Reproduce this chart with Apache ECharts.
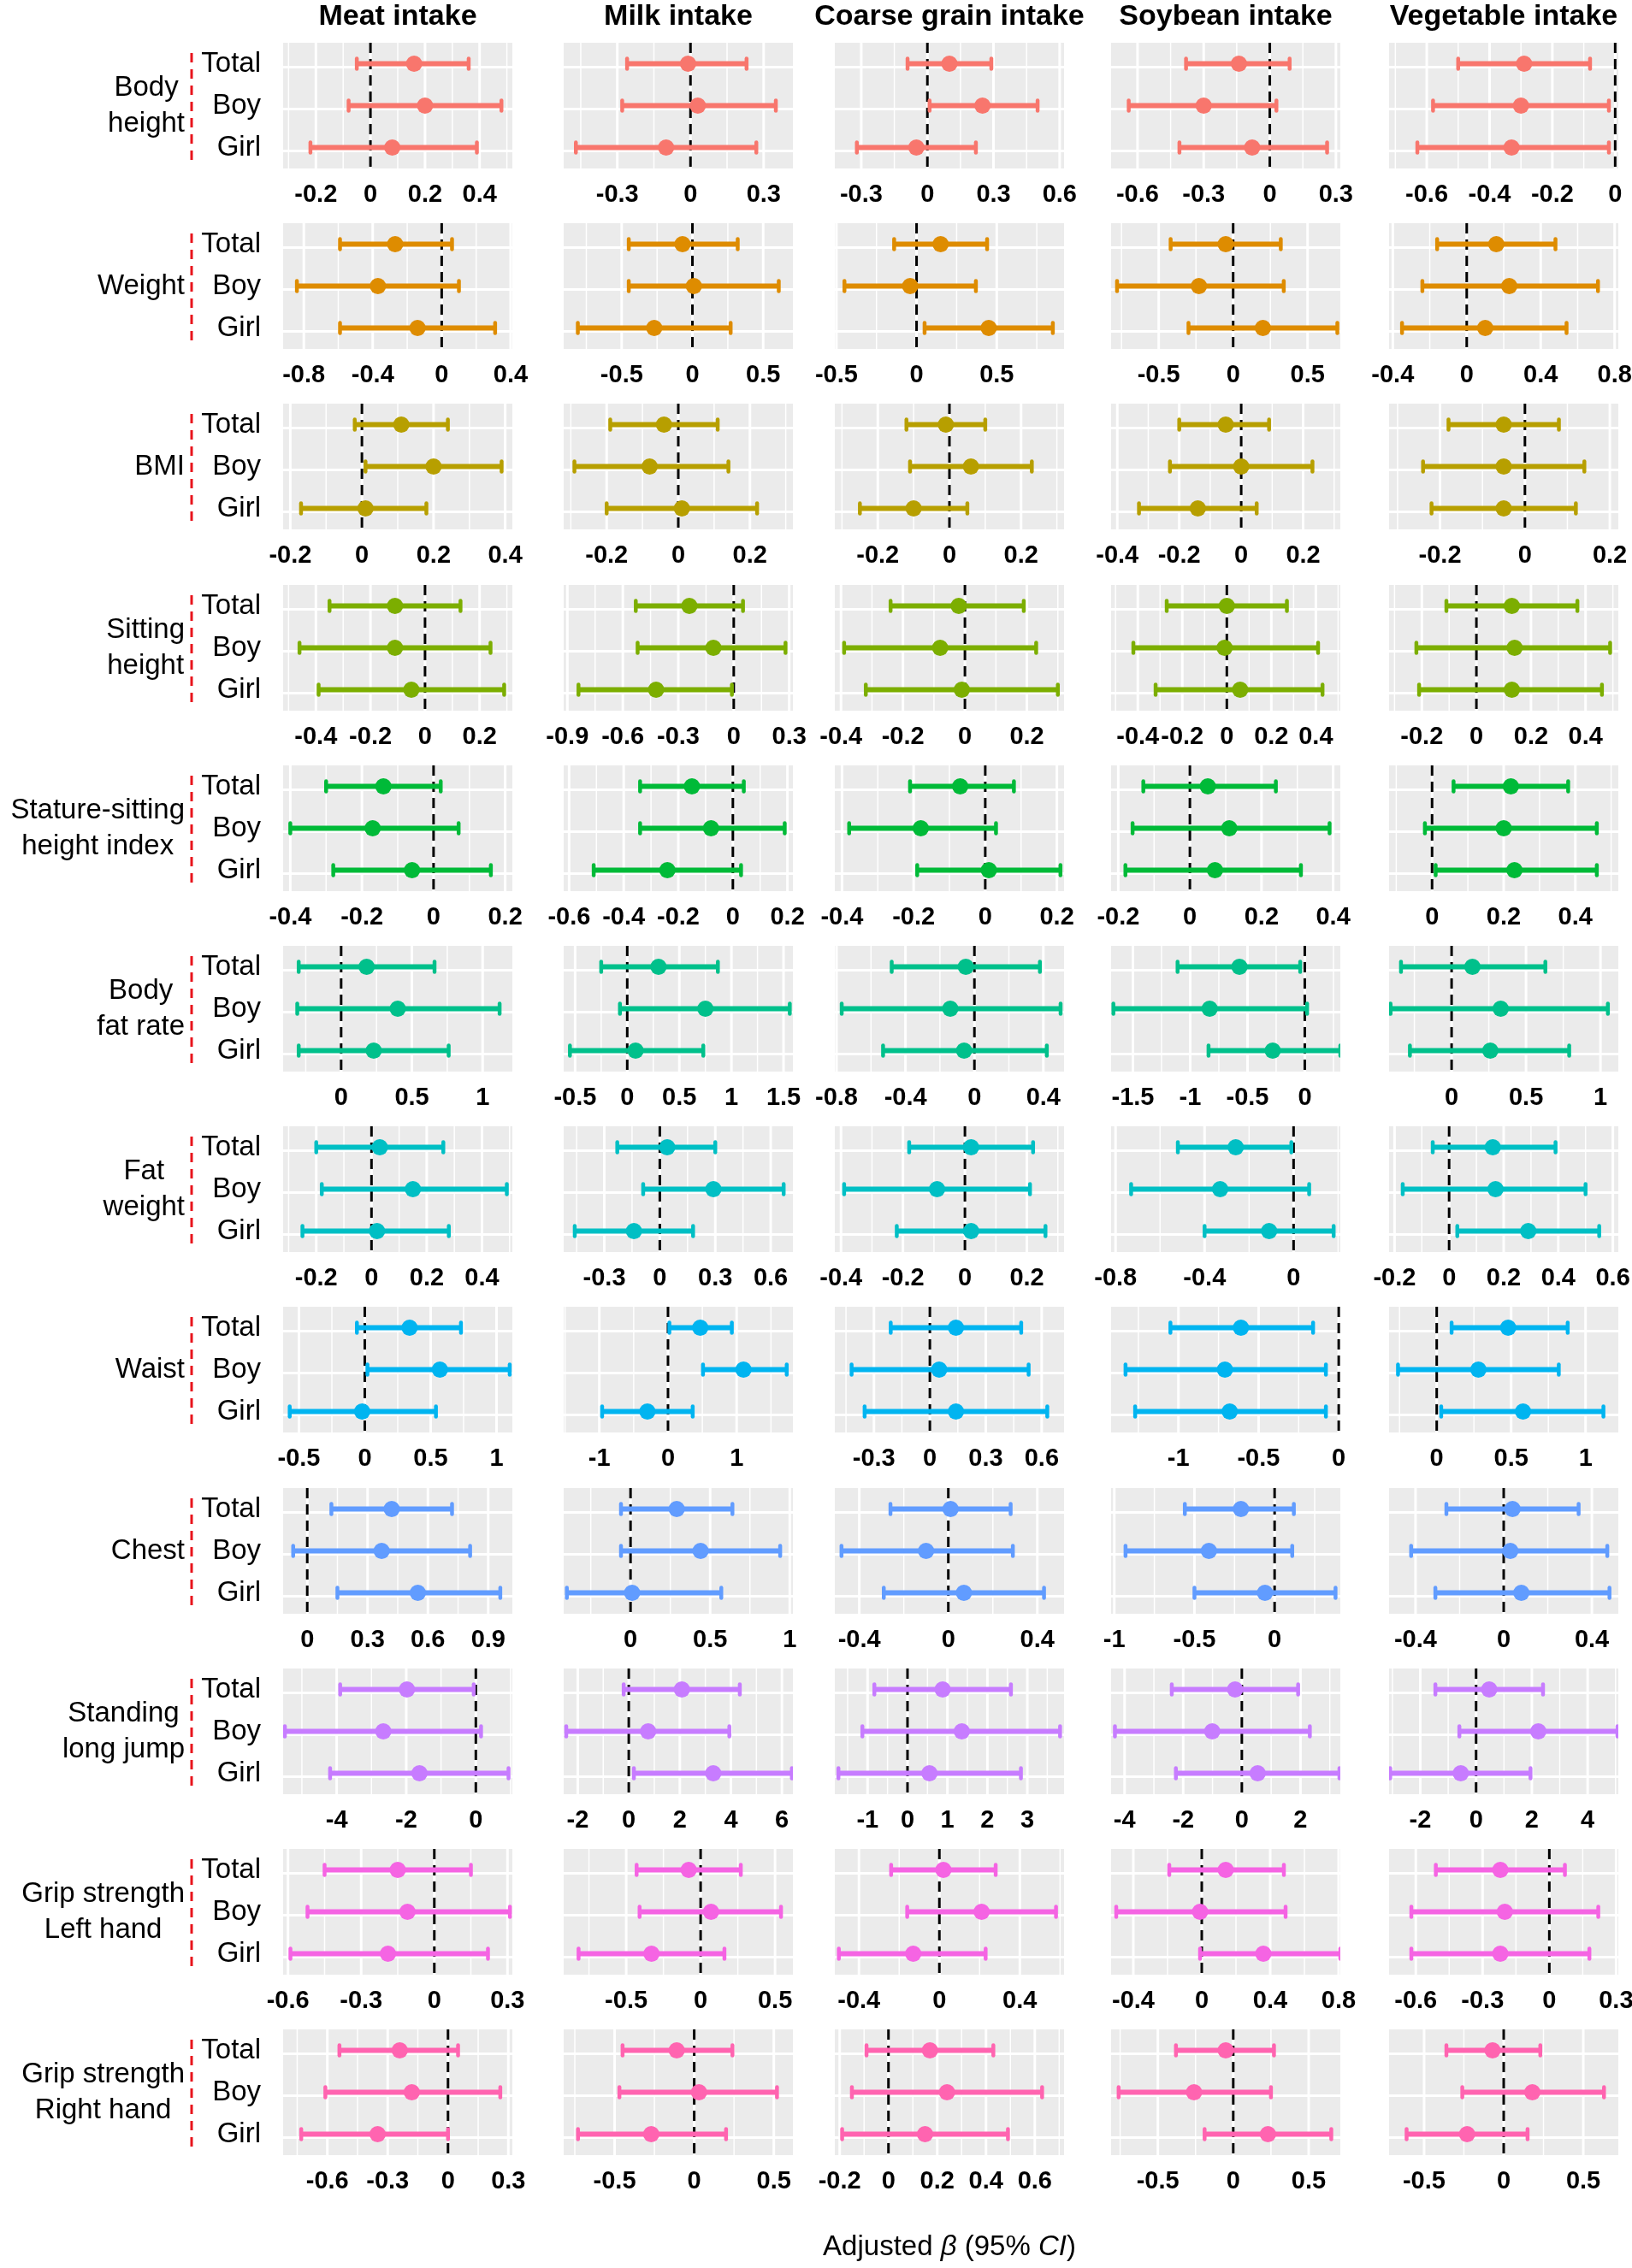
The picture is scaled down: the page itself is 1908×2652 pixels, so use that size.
<!DOCTYPE html>
<html>
<head>
<meta charset="utf-8">
<script src="https://cdn.jsdelivr.net/npm/echarts@6/dist/echarts.min.js"></script>
<style>
  html, body { margin: 0; padding: 0; background: #fff; }
  #chart { width: 1908px; height: 2652px; }
</style>
</head>
<body>
<div id="chart"></div>
<script>
const FONT = '"Liberation Sans", Arial, sans-serif';

const foods = ['Meat intake', 'Milk intake', 'Coarse grain intake', 'Soybean intake', 'Vegetable intake'];
const outcomes = ['Body\nheight', 'Weight', 'BMI', 'Sitting\nheight', 'Stature-sitting\nheight index',
    'Body\nfat rate', 'Fat\nweight', 'Waist', 'Chest', 'Standing\nlong jump',
    'Grip strength\nLeft hand', 'Grip strength\nRight hand'];
const groups = ['Total', 'Boy', 'Girl'];
const colors = ['#F8766D', '#DE8C00', '#B79F00', '#7CAE00', '#00BA38', '#00C08B',
    '#00BFC4', '#00B4F0', '#619CFF', '#C77CFF', '#F564E3', '#FF64B0'];

// one array per outcome, one entry per food (in `foods` order),
// each entry holds Total, Boy, Girl as [beta, lower 95% CI, upper 95% CI]
const bodyHeight = [
    [[0.16, -0.05, 0.36], [0.20, -0.08, 0.48], [0.08, -0.22, 0.39]],
    [[-0.01, -0.26, 0.23], [0.03, -0.28, 0.35], [-0.10, -0.47, 0.27]],
    [[0.10, -0.09, 0.29], [0.25, 0.01, 0.50], [-0.05, -0.32, 0.22]],
    [[-0.14, -0.38, 0.09], [-0.30, -0.64, 0.03], [-0.08, -0.41, 0.26]],
    [[-0.29, -0.50, -0.08], [-0.30, -0.58, -0.02], [-0.33, -0.63, -0.02]],
];
const weight = [
    [[-0.27, -0.59, 0.06], [-0.37, -0.84, 0.10], [-0.14, -0.59, 0.31]],
    [[-0.07, -0.45, 0.32], [0.01, -0.45, 0.61], [-0.27, -0.81, 0.27]],
    [[0.15, -0.14, 0.44], [-0.04, -0.45, 0.37], [0.45, 0.05, 0.85]],
    [[-0.05, -0.42, 0.32], [-0.23, -0.78, 0.34], [0.20, -0.30, 0.70]],
    [[0.16, -0.16, 0.48], [0.23, -0.24, 0.71], [0.10, -0.35, 0.54]],
];
const bmi = [
    [[0.11, -0.02, 0.24], [0.20, 0.01, 0.39], [0.01, -0.17, 0.18]],
    [[-0.04, -0.19, 0.11], [-0.08, -0.29, 0.14], [0.01, -0.20, 0.22]],
    [[-0.01, -0.12, 0.10], [0.06, -0.11, 0.23], [-0.10, -0.25, 0.05]],
    [[-0.05, -0.20, 0.09], [0.00, -0.23, 0.23], [-0.14, -0.33, 0.05]],
    [[-0.05, -0.18, 0.08], [-0.05, -0.24, 0.14], [-0.05, -0.22, 0.12]],
];
const sittingHeight = [
    [[-0.11, -0.35, 0.13], [-0.11, -0.46, 0.24], [-0.05, -0.39, 0.29]],
    [[-0.24, -0.53, 0.05], [-0.11, -0.52, 0.28], [-0.42, -0.84, -0.01]],
    [[-0.02, -0.24, 0.19], [-0.08, -0.39, 0.23], [-0.01, -0.32, 0.30]],
    [[0.00, -0.27, 0.27], [-0.01, -0.42, 0.41], [0.06, -0.32, 0.43]],
    [[0.13, -0.11, 0.37], [0.14, -0.22, 0.49], [0.13, -0.21, 0.46]],
];
const statureSittingIndex = [
    [[-0.14, -0.30, 0.02], [-0.17, -0.40, 0.07], [-0.06, -0.28, 0.16]],
    [[-0.15, -0.34, 0.04], [-0.08, -0.34, 0.19], [-0.24, -0.51, 0.03]],
    [[-0.07, -0.21, 0.08], [-0.18, -0.38, 0.03], [0.01, -0.19, 0.21]],
    [[0.05, -0.13, 0.24], [0.11, -0.16, 0.39], [0.07, -0.18, 0.31]],
    [[0.22, 0.06, 0.38], [0.20, -0.02, 0.46], [0.23, 0.01, 0.46]],
];
const bodyFatRate = [
    [[0.18, -0.30, 0.66], [0.40, -0.31, 1.12], [0.23, -0.30, 0.76]],
    [[0.30, -0.25, 0.87], [0.75, -0.07, 1.56], [0.08, -0.55, 0.73]],
    [[-0.05, -0.48, 0.38], [-0.14, -0.77, 0.50], [-0.06, -0.53, 0.42]],
    [[-0.57, -1.11, -0.04], [-0.83, -1.67, 0.02], [-0.28, -0.84, 0.31]],
    [[0.14, -0.34, 0.63], [0.33, -0.41, 1.05], [0.26, -0.28, 0.79]],
];
const fatWeight = [
    [[0.03, -0.20, 0.26], [0.15, -0.18, 0.49], [0.02, -0.25, 0.28]],
    [[0.04, -0.23, 0.30], [0.29, -0.09, 0.67], [-0.14, -0.46, 0.18]],
    [[0.02, -0.18, 0.22], [-0.09, -0.39, 0.21], [0.02, -0.22, 0.26]],
    [[-0.26, -0.52, -0.01], [-0.33, -0.73, 0.07], [-0.11, -0.40, 0.18]],
    [[0.16, -0.06, 0.39], [0.17, -0.17, 0.50], [0.29, 0.03, 0.55]],
];
const waist = [
    [[0.34, -0.06, 0.73], [0.57, 0.02, 1.10], [-0.02, -0.57, 0.54]],
    [[0.47, 0.02, 0.93], [1.10, 0.51, 1.73], [-0.30, -0.96, 0.36]],
    [[0.14, -0.21, 0.49], [0.05, -0.42, 0.53], [0.14, -0.35, 0.63]],
    [[-0.61, -1.05, -0.16], [-0.71, -1.33, -0.08], [-0.68, -1.27, -0.08]],
    [[0.48, 0.10, 0.88], [0.28, -0.26, 0.82], [0.58, 0.03, 1.12]],
];
const chest = [
    [[0.42, 0.12, 0.72], [0.37, -0.07, 0.81], [0.55, 0.15, 0.96]],
    [[0.29, -0.06, 0.64], [0.44, -0.06, 0.94], [0.01, -0.40, 0.57]],
    [[0.01, -0.26, 0.28], [-0.10, -0.48, 0.29], [0.07, -0.29, 0.43]],
    [[-0.21, -0.56, 0.12], [-0.41, -0.93, 0.11], [-0.06, -0.50, 0.38]],
    [[0.04, -0.26, 0.34], [0.03, -0.42, 0.47], [0.08, -0.31, 0.48]],
];
const standingLongJump = [
    [[-1.98, -3.90, -0.06], [-2.66, -5.49, 0.15], [-1.62, -4.19, 0.94]],
    [[2.08, -0.20, 4.35], [0.76, -2.45, 3.94], [3.31, 0.20, 6.39]],
    [[0.88, -0.83, 2.59], [1.36, -1.13, 3.82], [0.55, -1.73, 2.84]],
    [[-0.23, -2.39, 1.92], [-1.01, -4.33, 2.32], [0.54, -2.25, 3.33]],
    [[0.47, -1.46, 2.40], [2.23, -0.60, 5.07], [-0.55, -3.08, 1.95]],
];
const gripLeft = [
    [[-0.15, -0.45, 0.15], [-0.11, -0.52, 0.31], [-0.19, -0.59, 0.22]],
    [[-0.08, -0.43, 0.27], [0.07, -0.41, 0.54], [-0.33, -0.82, 0.16]],
    [[0.02, -0.24, 0.28], [0.21, -0.16, 0.58], [-0.13, -0.50, 0.23]],
    [[0.14, -0.19, 0.48], [-0.01, -0.50, 0.49], [0.36, -0.01, 0.81]],
    [[-0.22, -0.51, 0.07], [-0.20, -0.62, 0.22], [-0.22, -0.62, 0.18]],
];
const gripRight = [
    [[-0.24, -0.54, 0.05], [-0.18, -0.61, 0.26], [-0.35, -0.73, 0.00]],
    [[-0.11, -0.45, 0.24], [0.03, -0.47, 0.52], [-0.27, -0.73, 0.20]],
    [[0.17, -0.09, 0.43], [0.24, -0.15, 0.63], [0.15, -0.19, 0.49]],
    [[-0.05, -0.38, 0.27], [-0.26, -0.76, 0.25], [0.23, -0.19, 0.65]],
    [[-0.07, -0.36, 0.23], [0.18, -0.26, 0.63], [-0.23, -0.61, 0.15]],
];
const results = [bodyHeight, weight, bmi, sittingHeight, statureSittingIndex, bodyFatRate,
    fatWeight, waist, chest, standingLongJump, gripLeft, gripRight];

// x tick labels, per outcome row, per food column
const tickValues = [
    [[-0.2, 0, 0.2, 0.4], [-0.3, 0, 0.3], [-0.3, 0, 0.3, 0.6], [-0.6, -0.3, 0, 0.3], [-0.6, -0.4, -0.2, 0]],
    [[-0.8, -0.4, 0, 0.4], [-0.5, 0, 0.5], [-0.5, 0, 0.5], [-0.5, 0, 0.5], [-0.4, 0, 0.4, 0.8]],
    [[-0.2, 0, 0.2, 0.4], [-0.2, 0, 0.2], [-0.2, 0, 0.2], [-0.4, -0.2, 0, 0.2], [-0.2, 0, 0.2]],
    [[-0.4, -0.2, 0, 0.2], [-0.9, -0.6, -0.3, 0, 0.3], [-0.4, -0.2, 0, 0.2], [-0.4, -0.2, 0, 0.2, 0.4], [-0.2, 0, 0.2, 0.4]],
    [[-0.4, -0.2, 0, 0.2], [-0.6, -0.4, -0.2, 0, 0.2], [-0.4, -0.2, 0, 0.2], [-0.2, 0, 0.2, 0.4], [0, 0.2, 0.4]],
    [[0, 0.5, 1], [-0.5, 0, 0.5, 1, 1.5], [-0.8, -0.4, 0, 0.4], [-1.5, -1, -0.5, 0], [0, 0.5, 1]],
    [[-0.2, 0, 0.2, 0.4], [-0.3, 0, 0.3, 0.6], [-0.4, -0.2, 0, 0.2], [-0.8, -0.4, 0], [-0.2, 0, 0.2, 0.4, 0.6]],
    [[-0.5, 0, 0.5, 1], [-1, 0, 1], [-0.3, 0, 0.3, 0.6], [-1, -0.5, 0], [0, 0.5, 1]],
    [[0, 0.3, 0.6, 0.9], [0, 0.5, 1], [-0.4, 0, 0.4], [-1, -0.5, 0], [-0.4, 0, 0.4]],
    [[-4, -2, 0], [-2, 0, 2, 4, 6], [-1, 0, 1, 2, 3], [-4, -2, 0, 2], [-2, 0, 2, 4]],
    [[-0.6, -0.3, 0, 0.3], [-0.5, 0, 0.5], [-0.4, 0, 0.4], [-0.4, 0, 0.4, 0.8], [-0.6, -0.3, 0, 0.3]],
    [[-0.6, -0.3, 0, 0.3], [-0.5, 0, 0.5], [-0.2, 0, 0.2, 0.4, 0.6], [-0.5, 0, 0.5], [-0.5, 0, 0.5]],
];

// visible x range of every panel
const axisLimits = [
    [[-0.32, 0.52], [-0.52, 0.42], [-0.42, 0.62], [-0.72, 0.32], [-0.72, 0.01]],
    [[-0.92, 0.41], [-0.91, 0.71], [-0.51, 0.92], [-0.82, 0.72], [-0.42, 0.82]],
    [[-0.22, 0.42], [-0.32, 0.32], [-0.32, 0.32], [-0.42, 0.32], [-0.32, 0.22]],
    [[-0.52, 0.32], [-0.92, 0.32], [-0.42, 0.32], [-0.52, 0.51], [-0.32, 0.52]],
    [[-0.42, 0.22], [-0.62, 0.22], [-0.42, 0.22], [-0.22, 0.42], [-0.12, 0.52]],
    [[-0.41, 1.21], [-0.61, 1.59], [-0.81, 0.52], [-1.69, 0.31], [-0.42, 1.12]],
    [[-0.32, 0.51], [-0.52, 0.72], [-0.42, 0.32], [-0.82, 0.21], [-0.22, 0.62]],
    [[-0.62, 1.12], [-1.52, 1.82], [-0.51, 0.72], [-1.42, 0.01], [-0.32, 1.22]],
    [[-0.12, 1.02], [-0.42, 1.02], [-0.51, 0.52], [-1.02, 0.41], [-0.52, 0.52]],
    [[-5.54, 1.05], [-2.55, 6.43], [-1.82, 3.92], [-4.46, 3.36], [-3.12, 5.10]],
    [[-0.62, 0.32], [-0.92, 0.62], [-0.52, 0.62], [-0.53, 0.81], [-0.72, 0.31]],
    [[-0.82, 0.32], [-0.82, 0.62], [-0.22, 0.72], [-0.81, 0.71], [-0.72, 0.72]],
];

const colLeft = [331, 659, 976, 1299, 1624];
const PW = 268, PH = 147, ROW_STEP = 211.2, TOP0 = 50;

function gridLineItems(ticks, min, max) {
    // [kind, value, width]; kind 0 = vertical, 1 = horizontal
    const items = [];
    const step = ticks.length > 1 ? ticks[1] - ticks[0] : 1;
    const minors = [ticks[0] - step / 2];
    ticks.forEach(t => minors.push(t + step / 2));
    minors.filter(v => v > min && v < max).forEach(v => items.push([0, v, 1.5]));
    ticks.filter(v => v >= min && v <= max).forEach(v => items.push([0, v, 3]));
    // horizontal majors sit a little below each estimate row
    [3, 2, 1].forEach(v => items.push([1, v - 0.08, 3]));
    return items;
}

function renderGridLine(params, api) {
    const cs = params.coordSys;
    const kind = api.value(0), v = api.value(1), w = api.value(2);
    let shape;
    if (kind === 0) {
        const x = api.coord([v, 2])[0];
        shape = { x1: x, y1: cs.y, x2: x, y2: cs.y + cs.height };
    } else {
        const y = api.coord([0, v])[1];
        shape = { x1: cs.x, y1: y, x2: cs.x + cs.width, y2: y };
    }
    return { type: 'line', shape, style: { stroke: '#FFFFFF', lineWidth: w } };
}

function renderZeroLine(params, api) {
    const cs = params.coordSys;
    const x = api.coord([api.value(0), 2])[0];
    return {
        type: 'line',
        shape: { x1: x, y1: cs.y, x2: x, y2: cs.y + cs.height },
        style: { stroke: '#000', lineWidth: 3, lineDash: [12, 7] },
    };
}

function renderErrorBar(params, api) {
    const y = api.value(2);
    const a = api.coord([api.value(0), y]);
    const b = api.coord([api.value(1), y]);
    const color = api.visual('color');
    const cap = { stroke: color, lineWidth: 4.5, lineCap: 'round' };
    return {
        type: 'group',
        children: [
            { type: 'line', shape: { x1: a[0], y1: a[1], x2: b[0], y2: b[1] }, style: { stroke: color, lineWidth: 6 } },
            { type: 'line', shape: { x1: a[0], y1: a[1] - 6, x2: a[0], y2: a[1] + 6 }, style: cap },
            { type: 'line', shape: { x1: b[0], y1: b[1] - 6, x2: b[0], y2: b[1] + 6 }, style: cap },
        ],
    };
}

const grids = [], xAxes = [], yAxes = [], series = [], graphics = [];
const measure = document.createElement('canvas').getContext('2d');
measure.font = `33px ${FONT}`;

foods.forEach((food, c) => {
    graphics.push({
        type: 'text', x: colLeft[c] + PW / 2, y: 20,
        style: {
            text: food, fontSize: 34, fontWeight: 'bold', fontFamily: FONT, fill: '#000',
            align: 'center', verticalAlign: 'middle', textAlign: 'center', textVerticalAlign: 'middle',
        },
    });
});

outcomes.forEach((name, r) => {
    const top = Math.round(TOP0 + r * ROW_STEP);
    const color = colors[r];

    // row label: lines centred on each other, block ending just left of the red dashes
    const lines = name.split('\n');
    const w = Math.max(...lines.map(l => measure.measureText(l).width));
    graphics.push({
        type: 'text', x: 216 - w / 2, y: top + PH / 2,
        style: {
            text: name, fontSize: 33, fontFamily: FONT, fill: '#000', lineHeight: 42,
            align: 'center', verticalAlign: 'middle', textAlign: 'center', textVerticalAlign: 'middle',
        },
    });
    graphics.push({
        type: 'line',
        shape: { x1: 224, y1: top + 12, x2: 224, y2: top + PH - 10 },
        style: { stroke: '#E8141C', lineWidth: 3, lineDash: [11, 8] },
    });

    foods.forEach((food, c) => {
        const idx = grids.length;
        const [min, max] = axisLimits[r][c];
        const rows = results[r][c];

        grids.push({
            left: colLeft[c], top, width: PW, height: PH,
            show: true, backgroundColor: '#EBEBEB', borderWidth: 0,
            containLabel: false, outerBoundsMode: 'none',
        });
        xAxes.push({
            type: 'value', gridIndex: idx, min, max,
            axisLine: { show: false }, axisTick: { show: false }, splitLine: { show: false },
            axisLabel: {
                customValues: tickValues[r][c],
                formatter: v => String(v),
                fontSize: 29, fontWeight: 'bold', fontFamily: FONT, color: '#000', margin: 16,
            },
        });
        yAxes.push({
            type: 'value', gridIndex: idx, min: 0.5, max: 3.5, show: c === 0,
            axisLine: { show: false }, axisTick: { show: false }, splitLine: { show: false },
            axisLabel: {
                customValues: [1, 2, 3],
                formatter: v => groups[3 - v],
                fontSize: 33, fontFamily: FONT, color: '#000', margin: 26,
            },
        });

        series.push({
            type: 'custom', xAxisIndex: idx, yAxisIndex: idx, z: 1, silent: true, clip: true,
            renderItem: renderGridLine,
            data: gridLineItems(tickValues[r][c], min, max),
        });
        series.push({
            type: 'custom', xAxisIndex: idx, yAxisIndex: idx, z: 2, silent: true, clip: true,
            renderItem: renderZeroLine,
            data: [[0]],
        });
        series.push({
            type: 'custom', xAxisIndex: idx, yAxisIndex: idx, z: 3, silent: true, clip: true,
            itemStyle: { color },
            renderItem: renderErrorBar,
            encode: { x: [0, 1], y: 2 },
            data: rows.map((d, i) => [d[1], d[2], 3 - i]),
        });
        series.push({
            type: 'scatter', xAxisIndex: idx, yAxisIndex: idx, z: 4, silent: true,
            symbol: 'circle', symbolSize: 19,
            itemStyle: { color, opacity: 1 },
            data: rows.map((d, i) => [d[0], 3 - i]),
        });
    });
});

graphics.push({
    type: 'text', x: 1110, y: 2628,
    style: {
        text: '{n|Adjusted }{i|β}{n| (95% }{i|CI}{n|)}',
        rich: {
            n: { fontSize: 33, fontFamily: FONT, fill: '#000', color: '#000' },
            i: { fontSize: 33, fontFamily: FONT, fontStyle: 'italic', fill: '#000', color: '#000' },
        },
        align: 'center', verticalAlign: 'middle', textAlign: 'center', textVerticalAlign: 'middle',
    },
});

const chart = echarts.init(document.getElementById('chart'), null, { renderer: 'canvas' });
chart.setOption({
    animation: false,
    backgroundColor: '#FFFFFF',
    grid: grids,
    xAxis: xAxes,
    yAxis: yAxes,
    series,
    graphic: { elements: graphics },
});
</script>
</body>
</html>
